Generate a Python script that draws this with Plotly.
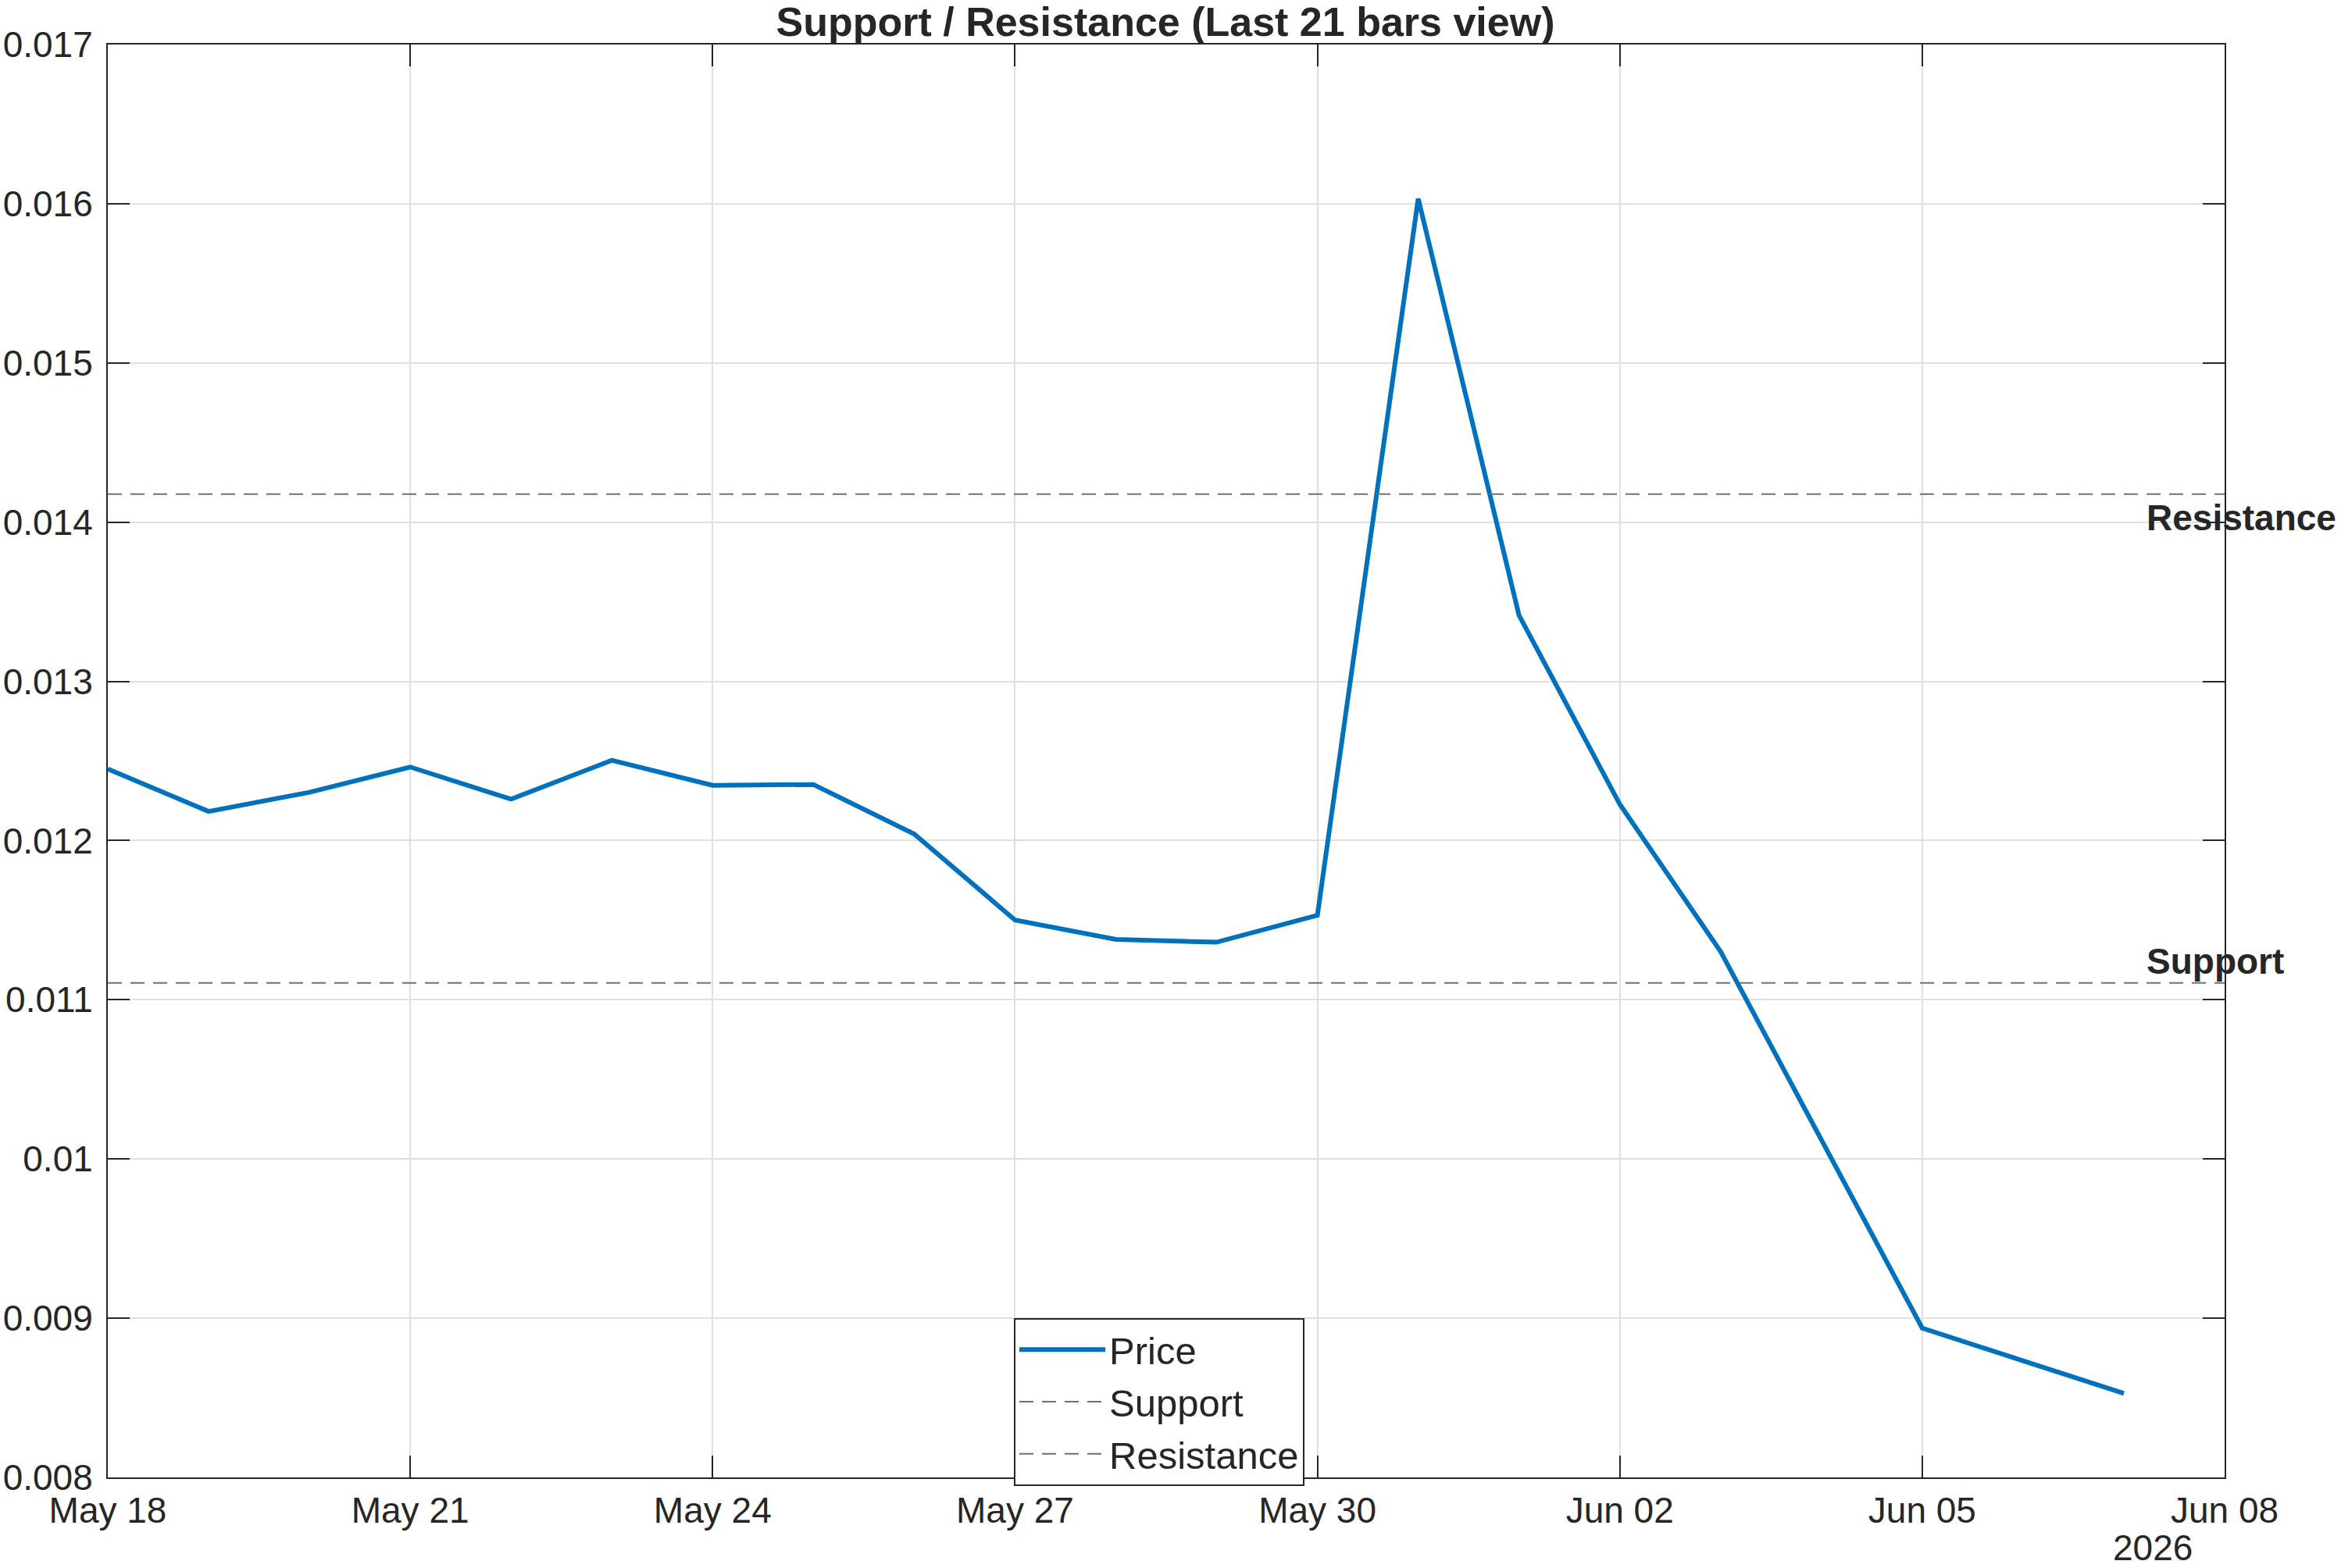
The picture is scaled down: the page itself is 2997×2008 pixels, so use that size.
import plotly.graph_objects as go

# ---- data ----
dates = ["2026-05-18", "2026-05-19", "2026-05-20", "2026-05-21", "2026-05-22",
         "2026-05-23", "2026-05-24", "2026-05-25", "2026-05-26", "2026-05-27",
         "2026-05-28", "2026-05-29", "2026-05-30", "2026-05-31", "2026-06-01",
         "2026-06-02", "2026-06-03", "2026-06-04", "2026-06-05", "2026-06-06",
         "2026-06-07"]
price = [0.012450, 0.012183, 0.012303, 0.012462, 0.012260,
         0.012504, 0.012347, 0.012352, 0.012041, 0.011501,
         0.011379, 0.011362, 0.011531, 0.016032, 0.013415,
         0.012228, 0.011303, 0.010120, 0.008938, 0.008733,
         0.008528]
support_level = 0.011106
resistance_level = 0.014176
x_limits = ["2026-05-18", "2026-06-08"]
y_ticks = [0.008, 0.009, 0.010, 0.011, 0.012, 0.013, 0.014, 0.015, 0.016, 0.017]
y_ticklabels = ["0.008", "0.009", "0.01", "0.011", "0.012", "0.013", "0.014",
                "0.015", "0.016", "0.017"]
title_text = "Support / Resistance (Last 21 bars view)"
year_label = "2026"

FONT = "Liberation Sans, Arial, Helvetica, sans-serif"
AX = "#262626"
DASH_COLOR = "#707070"

W, H = 2997, 2008
L, R, T, B = 138, 2997 - 2848, 57, 2008 - 1892
pw, ph = W - L - R, H - T - B

fig = go.Figure()
fig.add_trace(go.Scatter(x=dates, y=price, mode="lines", name="Price",
                         line=dict(color="#0072BD", width=6)))
fig.add_trace(go.Scatter(x=x_limits, y=[support_level] * 2, mode="lines", name="Support",
                         line=dict(color=DASH_COLOR, width=2, dash="18px,11px")))
fig.add_trace(go.Scatter(x=x_limits, y=[resistance_level] * 2, mode="lines", name="Resistance",
                         line=dict(color=DASH_COLOR, width=2, dash="18px,11px")))

axis_common = dict(showline=True, linecolor=AX, linewidth=2, mirror="allticks",
                   ticks="inside", ticklen=28, tickwidth=2, tickcolor=AX,
                   showgrid=True, gridcolor="#e0e0e0", gridwidth=2, zeroline=False,
                   automargin=False,
                   tickfont=dict(family=FONT, size=46, color=AX))

fig.update_xaxes(type="date", range=x_limits, tick0=x_limits[0], dtick=3 * 86400000,
                 tickformat="%b %d", ticklabelstandoff=1, **axis_common)
fig.update_yaxes(range=[y_ticks[0], y_ticks[-1]], tickvals=y_ticks, ticktext=y_ticklabels,
                 ticklabelstandoff=8, **axis_common)

label_x = (2746 - L) / pw
fig.add_annotation(x=label_x, xref="paper", y=resistance_level, yref="y",
                   text="<b>Resistance</b>", showarrow=False, xanchor="left", yanchor="top",
                   yshift=-2, font=dict(family=FONT, size=46, color=AX))
fig.add_annotation(x=label_x, xref="paper", y=support_level, yref="y",
                   text="<b>Support</b>", showarrow=False, xanchor="left", yanchor="bottom",
                   yshift=0, font=dict(family=FONT, size=46, color=AX))
fig.add_annotation(x=(2756 - L) / pw, xref="paper", y=-(1982 - 1892) / ph, yref="paper",
                   text=year_label, showarrow=False, xanchor="center", yanchor="middle",
                   font=dict(family=FONT, size=46, color=AX))

fig.update_layout(
    width=W, height=H,
    margin=dict(l=L, r=R, t=T, b=B, pad=0, autoexpand=False),
    paper_bgcolor="white", plot_bgcolor="white",
    title=dict(text="<b>" + title_text + "</b>", x=1492 / W, xanchor="center",
               y=1 - 28 / H, yanchor="middle", yref="container",
               font=dict(family=FONT, size=52, color=AX)),
    legend=dict(x=(1298 - L) / pw, xanchor="left", y=(1892 - 1903) / ph, yanchor="bottom",
                bgcolor="white", bordercolor=AX, borderwidth=2,
                font=dict(family=FONT, size=49, color=AX),
                itemwidth=110, tracegroupgap=0),
    showlegend=True,
)

fig.write_html("out.html")
